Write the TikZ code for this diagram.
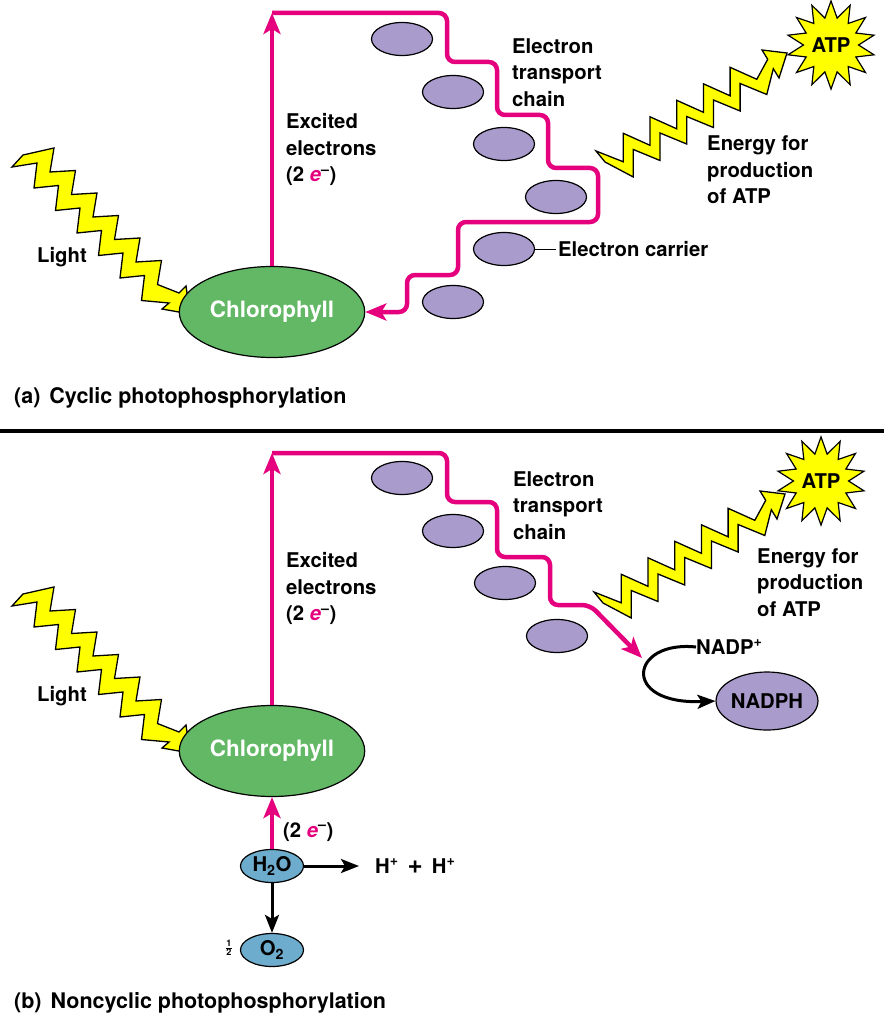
\documentclass[tikz,border=0pt]{standalone}
\usepackage{amsmath}
\usepackage{fontspec}
\setmainfont{TeX Gyre Heros}
\usetikzlibrary{arrows.meta,shapes.geometric}
\definecolor{epink}{RGB}{229,0,126}
\definecolor{boltyellow}{RGB}{255,255,0}
\definecolor{chlgreen}{RGB}{98,184,100}
\definecolor{carrierlilac}{RGB}{170,155,205}
\definecolor{waterblue}{RGB}{110,172,205}
\newcommand{\txtfont}{\fontsize{20.3}{26.5}\selectfont\bfseries}
\newcommand{\capfont}{\fontsize{21.5}{25}\selectfont\bfseries}
\tikzstyle{lbl}=[font=\txtfont, align=left, inner sep=0pt, anchor=west]
\tikzstyle{carrier}=[draw,%
                     ellipse,%
                     fill=carrierlilac,%
                     line width=1.2pt,%
                     inner sep=0pt,%
                     minimum width=61pt,%
                     minimum height=33pt]
\tikzstyle{pigment}=[draw, ellipse, fill=chlgreen, line width=1.2pt, minimum width=152pt, minimum height=91pt, text=white, font=\fontsize{22.5}{26}\selectfont\bfseries]
\tikzstyle{water}=[draw, ellipse, fill=waterblue, line width=1.2pt, inner sep=0pt, minimum width=63pt, minimum height=33pt, font=\txtfont]
\tikzstyle{burst}=[draw, star, star points=14, star point ratio=1.6, fill=boltyellow, line width=1.2pt, inner sep=0pt, minimum size=88pt, font=\txtfont]
\tikzstyle{bolt}=[draw=black, fill=boltyellow, line width=1.3pt, line join=miter]
\tikzstyle{eflow}=[draw=epink, line width=4.5pt, rounded corners=8pt, -{Stealth[length=21pt,width=17pt,inset=5pt]}]
\tikzstyle{chem}=[draw=black, line width=3pt, -{Stealth[length=18pt,width=14pt,inset=4pt]}]

\begin{document}
\begin{tikzpicture}[x=1pt, y=-1pt]
            \useasboundingbox (0,0) rectangle (884,1027);
            % light and ATP bolts, same shape in both panels
            \foreach \dy in {0,439} {
              \draw[bolt, shift={(0,\dy)}] (12,167) -- (23,155)
                \foreach \k in {0,...,5} { -- ({54+21.5*\k},{148+22.5*\k}) -- ({50+21.5*\k},{172+22.5*\k}) }
                -- (179,293) -- (186,286) -- (190,314) -- (162,309) -- (169,303)
                \foreach \k in {5,4,...,0} { -- ({34+21.5*\k},{188+22.5*\k}) -- ({37+21.5*\k},{163+22.5*\k}) }
                -- cycle;
            }
            \foreach \dx/\dy in {0/0,-2/441} {
              \draw[bolt, shift={(\dx,\dy)}] (596,151) -- (623.3,161.8)
                \foreach \k in {0,...,4} { -- ({623.3+26.7*\k},{133.3-16.5*\k}) -- ({650+26.7*\k},{145.3-16.5*\k}) }
                -- (767.7,59.3) -- (762,50) -- (787,53) -- (779,78) -- (773.3,68.7) -- (766.8,94.5)
                \foreach \k in {4,3,...,0} { -- ({633.3+26.7*\k},{149.5-16.5*\k}) -- ({633.3+26.7*\k},{177-16.5*\k}) }
                -- (605,162) -- cycle;
            }

            % (a) cyclic
            \node[pigment] (chlA) at (272,312) {Chlorophyll};
            \node[carrier] (ca1) at (402,39) {};
            \node[carrier] (ca2) at (453,92) {};
            \node[carrier] (ca3) at (504,144) {};
            \node[carrier] (ca4) at (556,197) {};
            \node[carrier] (ca5) at (504,249) {};
            \node[carrier] (ca6) at (453,302) {};
            \node[lbl] (excA) at (286,149.5) {Excited\\electrons\\(2 {\color{epink}\textit{e}}\textsuperscript{--})};
            \node[lbl] (etcA) at (512,72.5) {Electron\\transport\\chain};
            \node[lbl] (ecl) at (558,249) {Electron carrier};
            \node[lbl] (energyA) at (707,170) {Energy for\\production\\of ATP};
            \node[lbl] (lightA) at (37,257) {Light};
            \node[burst] (atpA) at (831,45) {ATP};
            \node[lbl, font=\capfont] (capA) at (14,398) {(a)\hspace{9pt}Cyclic photophosphorylation};
            \coordinate (topA) at (272,13);
            \draw[line width=1pt, shorten >=2pt] (ca5.east) -- (ecl.west);
            \draw[eflow] (chlA.north) -- (topA);
            \draw[eflow] (topA) -- (447,13) -- (447,62) -- (497,62) -- (497,115) -- (548,115) -- (548,168) -- (598,168) -- (598,222) -- (458,222) -- (458,275) -- (407,275) -- (407,312) -- (chlA.east);

            \draw[line width=4pt] (0,431) -- (884,431);

            % (b) noncyclic
            \node[pigment] (chlB) at (272,751) {Chlorophyll};
            \node[carrier] (cb1) at (402,478) {};
            \node[carrier] (cb2) at (453,531) {};
            \node[carrier] (cb3) at (505,583) {};
            \node[carrier] (cb4) at (557,636) {};
            \node[carrier, minimum width=101pt, minimum height=58pt, font=\txtfont] (nadph) at (767,701) {NADPH};
            \node[lbl] (nadp) at (696,647) {NADP\textsuperscript{+}};
            \node[water] (h2o) at (272,866) {H\textsubscript{2}O};
            \node[water] (o2) at (272,950) {O\textsubscript{2}};
            \node[font=\fontsize{13}{13}\selectfont\bfseries, inner sep=0pt] (half) at (229,948) {$\frac{\text{1}}{\text{2}}$};
            \node[lbl] (hp) at (375,866) {H\textsuperscript{+}\hspace{9pt}{\fontsize{26}{26}\selectfont +}\hspace{9pt}H\textsuperscript{+}};
            \node[lbl] (e2) at (283,832) {(2 {\color{epink}\textit{e}}\textsuperscript{--})};
            \node[lbl] (excB) at (286,588.5) {Excited\\electrons\\(2 {\color{epink}\textit{e}}\textsuperscript{--})};
            \node[lbl] (etcB) at (513,505.5) {Electron\\transport\\chain};
            \node[lbl] (energyB) at (757,582.5) {Energy for\\production\\of ATP};
            \node[lbl] (lightB) at (37,696) {Light};
            \node[burst] (atpB) at (821,481) {ATP};
            \node[lbl, font=\capfont] (capB) at (14,1003) {(b)\hspace{9pt}Noncyclic photophosphorylation};
            \coordinate (topB) at (272,453);
            \coordinate (nadpin) at (642,658);
            \draw[eflow] (chlB.north) -- (topB);
            \draw[eflow] (topB) -- (447,453) -- (447,502) -- (497,502) -- (497,557) -- (550,557) -- (550,605) -- (590,605) -- (nadpin);
            \draw[eflow] (h2o.north) -- (chlB.south);
            \draw[chem, shorten >=16pt] (h2o.east) -- (hp.west);
            \draw[chem] (h2o.south) -- (o2.north);
            \draw[chem] (nadp.west) .. controls (630,640) and (620,705) .. (nadph.west);
  \end{tikzpicture}
\end{document}
